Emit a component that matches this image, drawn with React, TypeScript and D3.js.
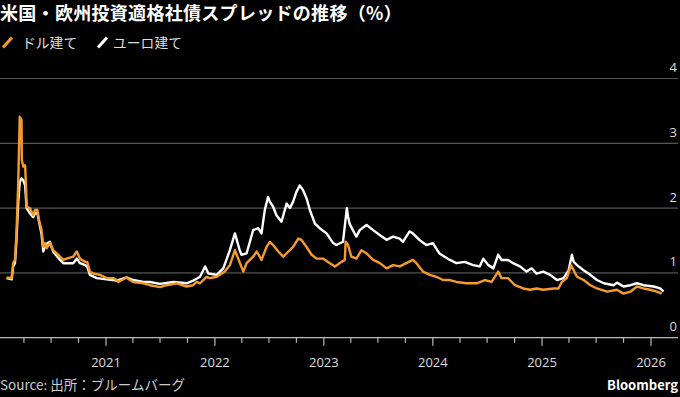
import React from "react";
import * as d3 from "d3";

const W = 680;
const H = 397;

const TITLE = "米国・欧州投資適格社債スプレッドの推移（%）";
const LEGEND_LABELS = ["ドル建て", "ユーロ建て"];
const SOURCE = "Source: 出所：ブルームバーグ";
const BRAND = "Bloomberg";

const yTicks = [0, 1, 2, 3, 4];
const xYears = [2021, 2022, 2023, 2024, 2025, 2026];

// ドル建て (USD) spread, %
const usd: [string, number][] = [
  ["2020-02-03", 0.93], ["2020-02-20", 0.92], ["2020-02-25", 1.15], ["2020-03-02", 1.2],
  ["2020-03-07", 1.61], ["2020-03-13", 2.39], ["2020-03-18", 3.41], ["2020-03-24", 3.36],
  ["2020-03-25", 2.74], ["2020-03-30", 2.64], ["2020-04-05", 2.66], ["2020-04-08", 2.33],
  ["2020-04-10", 2.02], ["2020-04-21", 2.0], ["2020-05-02", 1.89], ["2020-05-08", 1.97],
  ["2020-05-16", 1.97], ["2020-05-22", 1.81], ["2020-05-30", 1.66], ["2020-06-05", 1.4],
  ["2020-06-11", 1.46], ["2020-06-16", 1.38], ["2020-06-27", 1.46], ["2020-07-08", 1.35],
  ["2020-07-20", 1.3], ["2020-07-31", 1.25], ["2020-08-11", 1.2], ["2020-08-22", 1.22],
  ["2020-09-13", 1.25], ["2020-09-25", 1.33], ["2020-10-06", 1.22], ["2020-10-23", 1.17],
  ["2020-10-30", 1.17], ["2020-11-08", 1.02], ["2020-11-19", 0.99], ["2020-12-12", 0.97],
  ["2021-01-03", 0.92], ["2021-01-14", 0.92], ["2021-01-25", 0.92], ["2021-02-06", 0.89],
  ["2021-02-11", 0.86], ["2021-03-11", 0.93], ["2021-03-22", 0.89], ["2021-04-02", 0.86],
  ["2021-05-06", 0.84], ["2021-05-28", 0.81], ["2021-07-01", 0.78], ["2021-07-23", 0.81],
  ["2021-08-26", 0.84], ["2021-09-28", 0.79], ["2021-10-20", 0.81], ["2021-11-01", 0.86],
  ["2021-11-12", 0.84], ["2021-12-04", 0.94], ["2021-12-15", 0.92], ["2022-01-07", 0.94],
  ["2022-02-03", 1.02], ["2022-02-20", 1.12], ["2022-03-09", 1.35], ["2022-03-20", 1.22],
  ["2022-04-06", 1.02], ["2022-04-17", 1.15], ["2022-05-09", 1.25], ["2022-05-21", 1.33],
  ["2022-06-06", 1.2], ["2022-06-17", 1.33], ["2022-06-23", 1.4], ["2022-07-04", 1.48],
  ["2022-07-15", 1.43], ["2022-08-01", 1.33], ["2022-08-18", 1.25], ["2022-09-04", 1.33],
  ["2022-09-20", 1.4], ["2022-10-07", 1.53], ["2022-10-18", 1.51], ["2022-11-04", 1.4],
  ["2022-11-21", 1.28], ["2022-12-08", 1.22], ["2022-12-30", 1.22], ["2023-01-21", 1.15],
  ["2023-02-07", 1.1], ["2023-03-01", 1.17], ["2023-03-12", 1.2], ["2023-03-15", 1.48],
  ["2023-03-23", 1.43], ["2023-04-03", 1.25], ["2023-04-20", 1.22], ["2023-05-07", 1.35],
  ["2023-05-24", 1.3], ["2023-06-15", 1.2], ["2023-07-08", 1.15], ["2023-07-30", 1.07],
  ["2023-08-21", 1.12], ["2023-09-12", 1.1], ["2023-10-04", 1.15], ["2023-10-26", 1.2],
  ["2023-11-07", 1.15], ["2023-11-29", 1.02], ["2023-12-22", 0.97], ["2024-01-13", 0.94],
  ["2024-02-04", 0.89], ["2024-02-27", 0.89], ["2024-03-20", 0.86], ["2024-04-23", 0.84],
  ["2024-05-27", 0.84], ["2024-06-24", 0.89], ["2024-07-16", 0.86], ["2024-08-07", 1.02],
  ["2024-08-18", 0.92], ["2024-09-09", 0.92], ["2024-10-02", 0.81], ["2024-10-30", 0.76],
  ["2024-11-22", 0.74], ["2024-12-14", 0.76], ["2025-01-05", 0.74], ["2025-02-08", 0.76],
  ["2025-02-25", 0.76], ["2025-03-08", 0.86], ["2025-03-25", 0.92], ["2025-04-08", 1.12],
  ["2025-04-17", 1.04], ["2025-04-28", 0.94], ["2025-05-20", 0.89], ["2025-06-12", 0.81],
  ["2025-07-04", 0.76], ["2025-08-07", 0.71], ["2025-09-09", 0.74], ["2025-10-01", 0.68],
  ["2025-10-24", 0.71], ["2025-11-15", 0.79], ["2025-12-07", 0.76], ["2025-12-29", 0.74],
  ["2026-01-20", 0.71], ["2026-02-06", 0.68],
];

// ユーロ建て (EUR) spread, %
const eur: [string, number][] = [
  ["2020-02-03", 0.92], ["2020-02-20", 0.9], ["2020-02-25", 1.1], ["2020-03-02", 1.15],
  ["2020-03-07", 1.5], ["2020-03-13", 2.1], ["2020-03-18", 2.4], ["2020-03-24", 2.46],
  ["2020-03-30", 2.43], ["2020-04-05", 2.35], ["2020-04-10", 2.0], ["2020-04-21", 1.92],
  ["2020-05-02", 1.86], ["2020-05-08", 1.92], ["2020-05-16", 1.93], ["2020-05-22", 1.78],
  ["2020-05-30", 1.6], ["2020-06-05", 1.33], ["2020-06-11", 1.42], ["2020-06-16", 1.45],
  ["2020-06-27", 1.48], ["2020-07-08", 1.33], ["2020-07-20", 1.26], ["2020-07-31", 1.2],
  ["2020-08-11", 1.15], ["2020-08-22", 1.15], ["2020-09-13", 1.15], ["2020-09-25", 1.22],
  ["2020-10-06", 1.15], ["2020-10-23", 1.12], ["2020-10-30", 1.1], ["2020-11-08", 0.97],
  ["2020-12-01", 0.92], ["2021-01-03", 0.9], ["2021-02-06", 0.88], ["2021-03-11", 0.93],
  ["2021-04-02", 0.89], ["2021-05-06", 0.86], ["2021-05-28", 0.86], ["2021-07-01", 0.83],
  ["2021-08-15", 0.86], ["2021-09-28", 0.84], ["2021-10-20", 0.88], ["2021-11-12", 0.94],
  ["2021-11-29", 1.1], ["2021-12-10", 0.99], ["2022-01-07", 0.97], ["2022-01-29", 1.07],
  ["2022-02-20", 1.35], ["2022-03-09", 1.61], ["2022-03-25", 1.35], ["2022-03-31", 1.28],
  ["2022-04-17", 1.3], ["2022-05-09", 1.66], ["2022-05-26", 1.69], ["2022-06-06", 1.61],
  ["2022-06-17", 1.97], ["2022-06-28", 2.17], ["2022-07-04", 2.1], ["2022-07-15", 2.02],
  ["2022-07-26", 1.89], ["2022-08-12", 1.79], ["2022-08-29", 2.07], ["2022-09-09", 2.0],
  ["2022-09-20", 2.1], ["2022-10-01", 2.25], ["2022-10-12", 2.35], ["2022-10-23", 2.28],
  ["2022-11-04", 2.15], ["2022-11-15", 1.97], ["2022-12-02", 1.76], ["2022-12-18", 1.69],
  ["2023-01-10", 1.61], ["2023-02-01", 1.46], ["2023-02-12", 1.43], ["2023-03-06", 1.48],
  ["2023-03-19", 2.0], ["2023-03-23", 1.87], ["2023-03-28", 1.76], ["2023-04-08", 1.66],
  ["2023-04-20", 1.56], ["2023-05-01", 1.66], ["2023-05-24", 1.74], ["2023-06-15", 1.66],
  ["2023-07-08", 1.58], ["2023-07-30", 1.51], ["2023-08-21", 1.56], ["2023-09-12", 1.53],
  ["2023-09-23", 1.48], ["2023-10-15", 1.64], ["2023-10-26", 1.61], ["2023-11-17", 1.51],
  ["2023-12-10", 1.43], ["2024-01-01", 1.46], ["2024-01-23", 1.3], ["2024-02-27", 1.2],
  ["2024-03-20", 1.15], ["2024-04-17", 1.17], ["2024-05-15", 1.12], ["2024-06-06", 1.1],
  ["2024-06-18", 1.22], ["2024-07-05", 1.12], ["2024-07-22", 1.07], ["2024-08-07", 1.28],
  ["2024-08-18", 1.2], ["2024-09-09", 1.2], ["2024-09-26", 1.15], ["2024-10-19", 1.1],
  ["2024-11-10", 1.02], ["2024-11-27", 1.07], ["2024-12-14", 0.99], ["2025-01-05", 1.02],
  ["2025-01-28", 0.97], ["2025-02-20", 0.89], ["2025-03-14", 0.92], ["2025-03-31", 1.04],
  ["2025-04-11", 1.28], ["2025-04-17", 1.17], ["2025-04-28", 1.12], ["2025-05-20", 1.04],
  ["2025-06-12", 0.97], ["2025-07-04", 0.89], ["2025-07-27", 0.84], ["2025-08-29", 0.81],
  ["2025-09-09", 0.85], ["2025-10-01", 0.79], ["2025-10-24", 0.81], ["2025-11-15", 0.84],
  ["2025-12-07", 0.81], ["2026-01-10", 0.79], ["2026-02-01", 0.76], ["2026-02-12", 0.71],
];

const COLORS = { usd: "#f59a2c", eur: "#ffffff" };
const FONT = "'Noto Sans CJK JP', 'Noto Sans', sans-serif";

export default function App() {
  const parse = d3.timeParse("%Y-%m-%d");
  const x = d3
    .scaleTime()
    .domain([new Date(2021, 0, 1), new Date(2026, 0, 1)])
    .range([106, 651]);
  const y = d3.scaleLinear().domain([0, 4]).range([337.7, 78.5]);

  const line = d3
    .line<[string, number]>()
    .x((d) => x(parse(d[0]) as Date))
    .y((d) => y(d[1]))
    .curve(d3.curveLinear);

  const quarterTicks = d3.timeMonth
    .every(3)!
    .range(new Date(2020, 3, 1), new Date(2026, 1, 1));

  return (
    <svg
      width={W}
      height={H}
      style={{ position: "absolute", left: 0, top: 0, background: "#000" }}
      fontFamily={FONT}
    >
      <rect width={W} height={H} fill="#000" />
      <text x={0} y={20} fill="#fff" fontSize={18} fontWeight="bold" letterSpacing={0.3}>
        {TITLE}
      </text>
      {/* legend */}
      <g>
        <line x1={3} y1={47.5} x2={12} y2={37.5} stroke={COLORS.usd} strokeWidth={3} />
        <text x={22} y={47.5} fill="#ddd" fontSize={13.8}>
          {LEGEND_LABELS[0]}
        </text>
        <line x1={98} y1={47.5} x2={107} y2={37.5} stroke={COLORS.eur} strokeWidth={3} />
        <text x={113} y={47.5} fill="#ddd" fontSize={13.8}>
          {LEGEND_LABELS[1]}
        </text>
      </g>
      {/* grid + y labels */}
      {yTicks.map((t) => (
        <g key={t}>
          {t > 0 && (
            <line x1={0} x2={678} y1={y(t)} y2={y(t)} stroke="#555" strokeWidth={1.2} />
          )}
          <text
            x={677}
            y={y(t) - 6.5}
            fill="#ddd"
            fontSize={13}
            textAnchor="end"
            fontFamily="'Open Sans', sans-serif"
          >
            {t}
          </text>
        </g>
      ))}
      {/* series */}
      <path d={line(eur) || ""} fill="none" stroke={COLORS.eur} strokeWidth={2.4} strokeLinejoin="round" />
      <path d={line(usd) || ""} fill="none" stroke={COLORS.usd} strokeWidth={2.4} strokeLinejoin="round" />
      {/* x axis */}
      <line x1={0} x2={678} y1={y(0)} y2={y(0)} stroke="#bbb" strokeWidth={1.2} />
      {quarterTicks.map((d, i) => {
        const major = d.getMonth() === 0;
        return (
          <line
            key={i}
            x1={x(d)}
            x2={x(d)}
            y1={y(0)}
            y2={y(0) + (major ? 8 : 5)}
            stroke="#bbb"
            strokeWidth={1.2}
          />
        );
      })}
      {xYears.map((yr) => (
        <text
          key={yr}
          x={x(new Date(yr, 0, 1))}
          y={367}
          fill="#ddd"
          fontSize={13}
          textAnchor="middle"
          fontFamily="'Open Sans', sans-serif"
        >
          {yr}
        </text>
      ))}
      <text x={0} y={390} fill="#ccc" fontSize={13.5}>
        {SOURCE}
      </text>
      <text x={678} y={390} fill="#fff" fontSize={13} fontWeight="bold" textAnchor="end">
        {BRAND}
      </text>
    </svg>
  );
}
